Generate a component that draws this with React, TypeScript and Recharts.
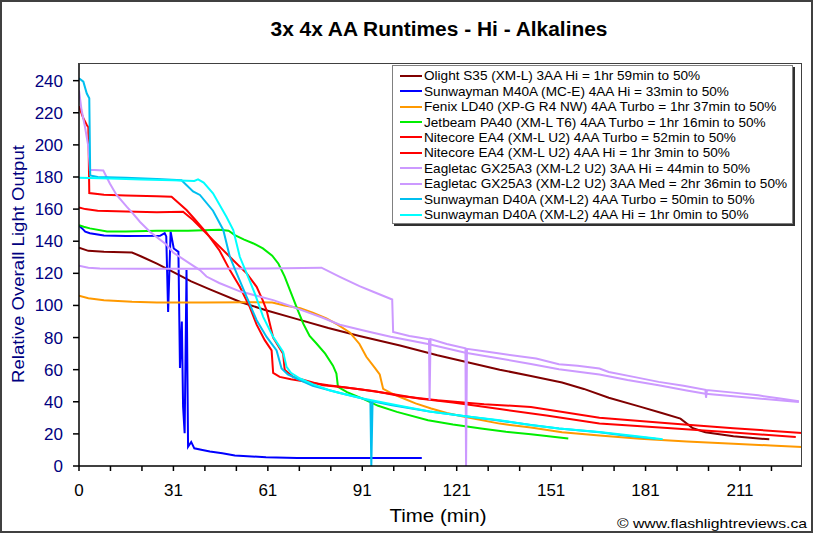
import React from 'react';
import { LineChart, Line, XAxis, YAxis, Legend } from 'recharts';

type Pt = [number, number];

// [minutes, relative output]
const olightS35: Pt[] = [
  [0, 136], [3, 134], [8, 133.5], [17, 133], [20, 130.5], [25, 126], [30, 121], [36, 115], [42, 110],
  [52, 102], [60, 97], [70, 91.5], [80, 86], [90, 81], [103, 75], [115, 69], [125, 64.5], [135, 60],
  [145, 56], [155, 52], [162, 48], [170, 42.5], [180, 37], [187, 33], [193, 29.5], [197, 23.5],
  [201, 21], [210, 18.5], [221.5, 16.6],
];

const m40a: Pt[] = [
  [0, 149.6], [1, 148], [2, 146], [3.5, 145], [8, 143.5], [15, 143.2], [26, 143.4], [27.5, 145],
  [28, 143], [28.6, 96], [29.4, 146], [30.4, 135.5], [31.9, 133.4], [32.4, 61], [33, 90],
  [33.4, 37], [33.9, 20.4], [34.5, 122], [35, 12], [36, 15], [37, 11], [39.6, 10], [42, 9],
  [46, 8], [50, 6.5], [60, 5.5], [70, 5], [80, 5], [90, 5], [100, 5], [110, 5],
];

const fenixLd40: Pt[] = [
  [0, 106], [3, 104.5], [8, 103.3], [17, 102.3], [25, 101.8], [40, 101.8], [55, 102], [62, 101.8],
  [66, 100], [71, 98.3], [75, 95.5], [79.4, 92], [83, 88], [87, 83], [90, 76], [92.2, 68],
  [95, 61], [96.5, 57], [97.6, 48], [100, 45.5], [103, 43], [108, 39], [113, 35.8], [118, 33],
  [124, 30.5], [135, 26.4], [145, 24], [155, 21], [167, 19], [180, 17], [195, 15.3], [210, 13.8],
  [222, 12.8], [232, 11.8],
];

const jetbeamPa40: Pt[] = [
  [0, 150], [1.5, 149], [3.5, 148], [9, 146], [15, 146], [25, 146.5], [35, 146.5], [45, 147.2],
  [48, 146.5], [50, 143.8], [53, 141], [56, 138.6], [59, 135.5], [62, 131], [64, 126], [66, 118],
  [68, 108], [70, 98], [72, 88.5], [74, 81], [76.2, 76.3], [79, 70], [81.5, 62.5], [82.6, 57.6],
  [83.1, 49.3], [86, 46], [91, 42], [96, 37.5], [102, 33.7], [112, 28.5], [120, 25.8], [129, 23.3],
  [137, 21.3], [145, 19.8], [157, 17.1],
];

const ea4Turbo: Pt[] = [
  [0, 224], [1.4, 216.6], [2.5, 212.4], [3, 211], [3.3, 170], [8, 169], [15, 168.5], [25, 168],
  [29.7, 167.7], [34.5, 159.4], [37, 154], [41, 145], [45, 134.5], [48.4, 122], [51.6, 111.6],
  [54.8, 99], [57, 88], [59.6, 78.4], [61.8, 72], [62.3, 58], [64.4, 55.5], [68, 54], [73, 52.4],
  [80, 50.3], [90, 47.8], [100, 45], [109, 42], [120, 39.5], [135, 35.5], [150, 31.5], [167, 26.4],
  [190, 23.5], [210, 20.8], [230, 18.1],
];

const ea4Hi: Pt[] = [
  [0, 161], [2, 160], [6, 159], [15, 158.5], [25, 158], [33.4, 158.3], [36.6, 153.2], [43, 140.7],
  [49.5, 128.2], [53.8, 120], [57, 111.6], [59, 103], [60.2, 97], [62.3, 80], [65.5, 70], [66, 60],
  [68.7, 55.5], [75, 52], [78.3, 50.3], [85, 49], [95, 46.5], [103, 43.6], [115, 41], [130, 38.5],
  [145, 36.8], [167, 30], [190, 26.5], [210, 23.5], [232, 20.6],
];

const gx25a3Hi: Pt[] = [
  [0, 234], [0.8, 222], [1.9, 211.4], [3, 199], [3.5, 184.4], [5, 184.4], [7.8, 184], [9.9, 176],
  [12, 169], [15.3, 161.5], [17.4, 157], [19.6, 152], [23, 145.5], [28, 138], [30.2, 133],
  [35.6, 126], [38.8, 122], [40.9, 118], [45, 114], [51.6, 108.8], [57, 106], [62.3, 103.3],
  [68, 99.5], [73, 96], [78, 92.5], [83.7, 88], [91, 84.6], [94.4, 83], [100, 80.5], [105, 78.6],
  [112, 76], [124, 70.5], [135, 67], [145, 63.5], [154, 60.3], [167, 57], [176, 53.5], [186, 50.3],
  [195, 47], [201, 45], [210, 43.5], [218, 42], [231, 39.9],
];

const gx25a3Med: Pt[] = [
  [0, 124.7], [3, 123.5], [6.7, 123], [20, 122.8], [40, 122.8], [60, 123], [77.8, 123.5],
  [83.7, 117.8], [90, 112], [94.4, 108.5], [100.5, 103.7], [100.8, 83.5], [106, 81], [109, 80],
  [112.3, 78.9], [112.5, 41], [112.8, 79], [118, 76], [124, 73.3], [124.2, 0], [124.5, 73],
  [130, 71.5], [135, 70], [146.7, 67], [154, 63.4], [160, 62.5], [167, 60.7], [170, 58.6],
  [178, 55.5], [186, 52.4], [194, 50], [201, 47.5], [201.2, 42.5], [201.5, 47.3], [210, 45.7],
  [218, 44], [225, 42], [231, 40.3],
];

const d40aTurbo: Pt[] = [
  [0, 241.5], [1.4, 239.4], [2.5, 232], [3.3, 229], [3.6, 181], [6, 180], [15, 179.5],
  [25, 178.7], [32.9, 178], [36.6, 171], [38.8, 168.8], [43, 159], [46.3, 147], [48.4, 130.3],
  [50.6, 120], [53.8, 105.4], [57, 90.8], [60.2, 80.4], [63.4, 72], [65, 60.7], [67, 57],
  [69.8, 54.5], [75, 50], [83.7, 45.5], [91, 42], [93.5, 40.5], [93.8, 0], [94.2, 40.3],
  [100, 38], [112.5, 34], [124, 31], [134, 28.5], [145, 25.5], [154, 23.3], [167, 21], [175, 19],
  [185, 17],
];

const d40aHi: Pt[] = [
  [0, 179.5], [10, 179], [20, 178.5], [30, 178], [37, 177.5], [38.2, 178.5], [40, 176.5],
  [43, 169.8], [47.3, 155.2], [49.5, 147], [51.6, 130.3], [53.8, 120], [56.4, 107.5], [59.1, 92.9],
  [62.3, 80.4], [65.5, 71], [66.6, 61.7], [68, 58], [70.9, 54.5], [75, 51], [80.5, 47], [91, 42],
  [102.9, 37.5], [112.5, 34], [124, 31], [135, 28.5], [145, 25.5], [154, 23.3], [167, 21.2],
  [177, 19], [187.3, 16.6],
];

const seriesNames = [
  'Olight S35 (XM-L) 3AA Hi = 1hr 59min to 50%',
  'Sunwayman M40A (MC-E) 4AA Hi = 33min to 50%',
  'Fenix LD40 (XP-G R4 NW) 4AA Turbo = 1hr 37min to 50%',
  'Jetbeam PA40 (XM-L T6) 4AA Turbo = 1hr 16min to 50%',
  'Nitecore EA4 (XM-L U2) 4AA Turbo = 52min to 50%',
  'Nitecore EA4 (XM-L U2) 4AA Hi = 1hr 3min to 50%',
  'Eagletac GX25A3 (XM-L2 U2) 3AA Hi = 44min to 50%',
  'Eagletac GX25A3 (XM-L2 U2) 3AA Med = 2hr 36min to 50%',
  'Sunwayman D40A (XM-L2) 4AA Turbo = 50min to 50%',
  'Sunwayman D40A (XM-L2) 4AA Hi = 1hr 0min to 50%',
];
const seriesData = [olightS35, m40a, fenixLd40, jetbeamPa40, ea4Turbo, ea4Hi, gx25a3Hi, gx25a3Med, d40aTurbo, d40aHi];
const seriesColors = ['#800000', '#0000ff', '#ff9900', '#00ee00', '#ff0000', '#ff0000', '#cc99ff', '#cc99ff', '#00bfef', '#00ffff'];

const xTickLabels = ['0', '31', '61', '91', '121', '151', '181', '211'];
const xTicks = Array.from({ length: 23 }, (_, i) => i * 10.1);
const yTicks = [0, 20, 40, 60, 80, 100, 120, 140, 160, 180, 200, 220, 240];

const series = seriesNames.map((name, i) => ({
  name,
  color: seriesColors[i],
  data: seriesData[i].map(([t, v]) => ({ t, v })),
}));

const font = '"Liberation Sans", Arial, sans-serif';
const navy = '#000080';

const XTick = (props: any) => {
  const { x, y, index } = props;
  const label = index % 3 === 0 ? xTickLabels[index / 3] : '';
  return (
    <text x={x} y={y + 25} textAnchor="middle" fontSize={17} fontFamily={font} fill="#000">
      {label}
    </text>
  );
};

const YTick = (props: any) => {
  const { x, y, payload } = props;
  return (
    <text x={x - 10} y={y + 6} textAnchor="end" fontSize={17} fontFamily={font} fill={navy}>
      {payload.value}
    </text>
  );
};

const renderLegend = (props: any) => {
  const items = [...(props.payload || [])].sort(
    (a: any, b: any) => seriesNames.indexOf(a.value) - seriesNames.indexOf(b.value),
  );
  return (
    <div
      style={{
        width: 401,
        height: 159,
        background: '#fff',
        border: '1px solid #808080',
        boxShadow: '2px 2px 0 #303030',
        paddingTop: 2,
        boxSizing: 'border-box',
        fontFamily: font,
      }}
    >
      {items.map((p: any) => (
        <div key={p.value} style={{ display: 'flex', alignItems: 'center', height: 15.45 }}>
          <span style={{ display: 'inline-block', width: 22, height: 2, background: p.color, marginLeft: 7, marginRight: 2 }} />
          <span style={{ fontSize: 13.6, color: '#000', whiteSpace: 'nowrap', lineHeight: '15px' }}>{p.value}</span>
        </div>
      ))}
    </div>
  );
};

export default function App() {
  return (
    <div style={{ position: 'absolute', left: 0, top: 0, width: 818, height: 535, background: '#fff', fontFamily: font }}>
      <div
        style={{
          position: 'absolute', left: 0, top: 0, width: 813, height: 533,
          border: '2px solid #404040', boxSizing: 'border-box',
        }}
      />
      <div style={{ position: 'absolute', left: 0, top: 0 }}>
        <LineChart width={818} height={535} margin={{ top: 63, right: 16, bottom: 0, left: 0 }}>
          <XAxis
            dataKey="t"
            type="number"
            domain={[0, 232]}
            ticks={xTicks}
            interval={0}
            height={69}
            tickSize={5}
            tickMargin={0}
            tick={<XTick />}
            stroke="#000"
            strokeWidth={1.5}
            allowDataOverflow
          />
          <YAxis
            type="number"
            domain={[0, 251]}
            ticks={yTicks}
            interval={0}
            width={79}
            tickSize={6}
            tickMargin={0}
            tick={<YTick />}
            stroke="#000"
            strokeWidth={1.5}
            allowDataOverflow
          />
          <Legend
            layout="vertical"
            align="center"
            verticalAlign="middle"
            content={renderLegend}
            wrapperStyle={{ left: 392, top: 65, width: 403, height: 161 }}
          />
          {series.map((s) => (
            <Line
              key={s.name}
              name={s.name}
              data={s.data}
              dataKey="v"
              stroke={s.color}
              strokeWidth={2}
              dot={false}
              activeDot={false}
              type="linear"
              isAnimationActive={false}
            />
          ))}
        </LineChart>
      </div>
      <div
        style={{
          position: 'absolute', left: 79, top: 63, width: 723, height: 403,
          borderTop: '1.5px solid #404040', borderRight: '1.5px solid #404040',
          boxSizing: 'border-box', pointerEvents: 'none',
        }}
      />
      <svg width={818} height={535} style={{ position: 'absolute', left: 0, top: 0, pointerEvents: 'none' }}>
        <text x={439} y={36} textAnchor="middle" fontSize={20} fontWeight="bold" fontFamily={'"Liberation Sans Narrow", "Arial Narrow", ' + font} textLength={337} lengthAdjust="spacingAndGlyphs">
          3x 4x AA Runtimes - Hi - Alkalines
        </text>
        <text transform="translate(24,264) rotate(-90)" textAnchor="middle" fontSize={17} fontFamily={font} fill={navy} textLength={238} lengthAdjust="spacingAndGlyphs">
          Relative Overall Light Output
        </text>
        <text x={438} y={522} textAnchor="middle" fontSize={19} fontFamily={font} fill="#000" textLength={97} lengthAdjust="spacingAndGlyphs">
          Time (min)
        </text>
        <text x={807} y={528} textAnchor="end" fontSize={13} fontFamily={font} fill="#000" textLength={190} lengthAdjust="spacingAndGlyphs">
          © www.flashlightreviews.ca
        </text>
      </svg>
    </div>
  );
}
